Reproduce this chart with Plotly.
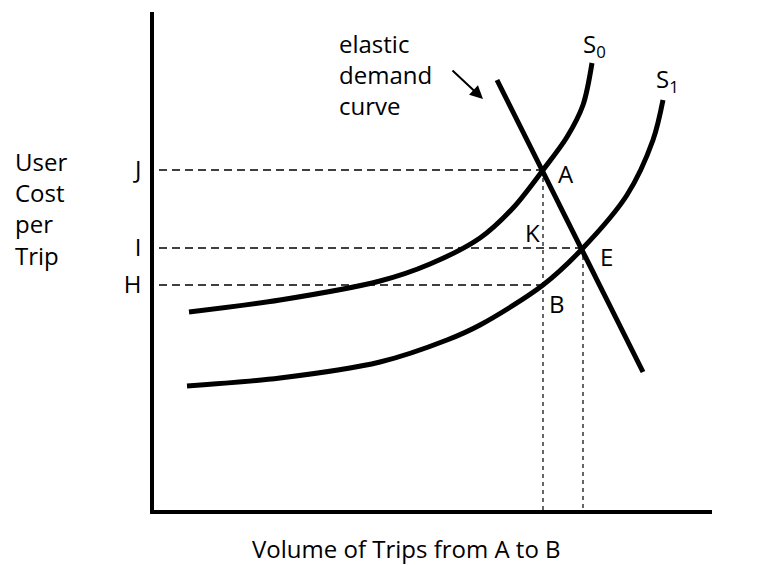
import plotly.graph_objects as go

# curve points (x = volume, y = user cost, origin at the axes corner)
s0_x = [35, 126, 226, 276, 326, 359, 389, 413, 429, 438]
s0_y = [198, 210, 229, 246, 272, 302, 340, 373, 405, 447]

s1_x = [33, 126, 226, 293, 326, 389, 429, 473, 499, 509]
s1_y = [124, 132, 148, 170, 185, 225, 262, 315, 370, 410]

demand_x = [343, 489]
demand_y = [430, 138]

# price levels and the equilibrium volumes
level_names = ["H", "I", "J"]
level_vals = [225, 262, 340]
q_a = 389  # volume at A (and K, B)
q_e = 429  # volume at E

FONT = "Open Sans"
FS = 24

fig = go.Figure()

dash_h = dict(color="black", width=1.4, dash="8px,5px")
dash_v = dict(color="black", width=1.2, dash="4px,4px")

# horizontal guides from the cost axis
for val, x_end in zip(level_vals, [q_a, q_e, q_a]):
    fig.add_trace(go.Scatter(x=[5, x_end], y=[val, val], mode="lines",
                             line=dash_h, hoverinfo="skip"))

# vertical guides down to the volume axis
fig.add_trace(go.Scatter(x=[q_a, q_a], y=[level_vals[2], 0], mode="lines",
                         line=dash_v, hoverinfo="skip"))
fig.add_trace(go.Scatter(x=[q_e, q_e], y=[level_vals[1], 0], mode="lines",
                         line=dash_v, hoverinfo="skip"))

curve = dict(color="black", width=5, shape="spline", smoothing=0.9)
fig.add_trace(go.Scatter(x=s0_x, y=s0_y, mode="lines", line=curve))
fig.add_trace(go.Scatter(x=s1_x, y=s1_y, mode="lines", line=curve))
fig.add_trace(go.Scatter(x=demand_x, y=demand_y, mode="lines",
                         line=dict(color="black", width=5)))

txt = dict(family=FONT, size=FS, color="black")


def label(x, y, text, **kw):
    fig.add_annotation(x=x, y=y, text=text, showarrow=False, font=txt, **kw)


label(q_a + 23, level_vals[2] - 3, "A")
label(q_a - 11, 278, "K")
label(q_e + 23, level_vals[1] - 8, "E")
label(q_a + 14, 207, "B")
label(440, 465, "S<sub>0</sub>")
label(513, 430, "S<sub>1</sub>")
label(183, 436, "elastic<br>demand<br>curve", xanchor="left", align="left")

# texts outside the axes
label(-0.2527, 0.606, "User<br>Cost<br>per<br>Trip", xref="paper", yref="paper",
      xanchor="left", align="left")
label(0.452, -0.114, "Volume of Trips from A to B", xref="paper", yref="paper")

fig.add_annotation(x=329, y=411, ax=297, ay=441, axref="x", ayref="y",
                   showarrow=True, arrowhead=2, arrowsize=1.3, arrowwidth=2,
                   arrowcolor="black", text="")

# page body has an 8px margin, so the figure is 8px smaller and shifted
fig.update_layout(
    width=764,
    height=557,
    showlegend=False,
    plot_bgcolor="white",
    paper_bgcolor="white",
    margin=dict(l=146, r=60, t=4, b=55),
    font=txt,
    xaxis=dict(range=[0, 558], showgrid=False, zeroline=False,
               showticklabels=False, ticks="", showline=True,
               linecolor="black", linewidth=3.5),
    yaxis=dict(range=[0, 498], showgrid=False, zeroline=False,
               tickvals=level_vals, ticktext=level_names, ticks="",
               ticklabelstandoff=4, showline=True, linecolor="black",
               linewidth=3.5),
)

fig.write_html("out.html")
